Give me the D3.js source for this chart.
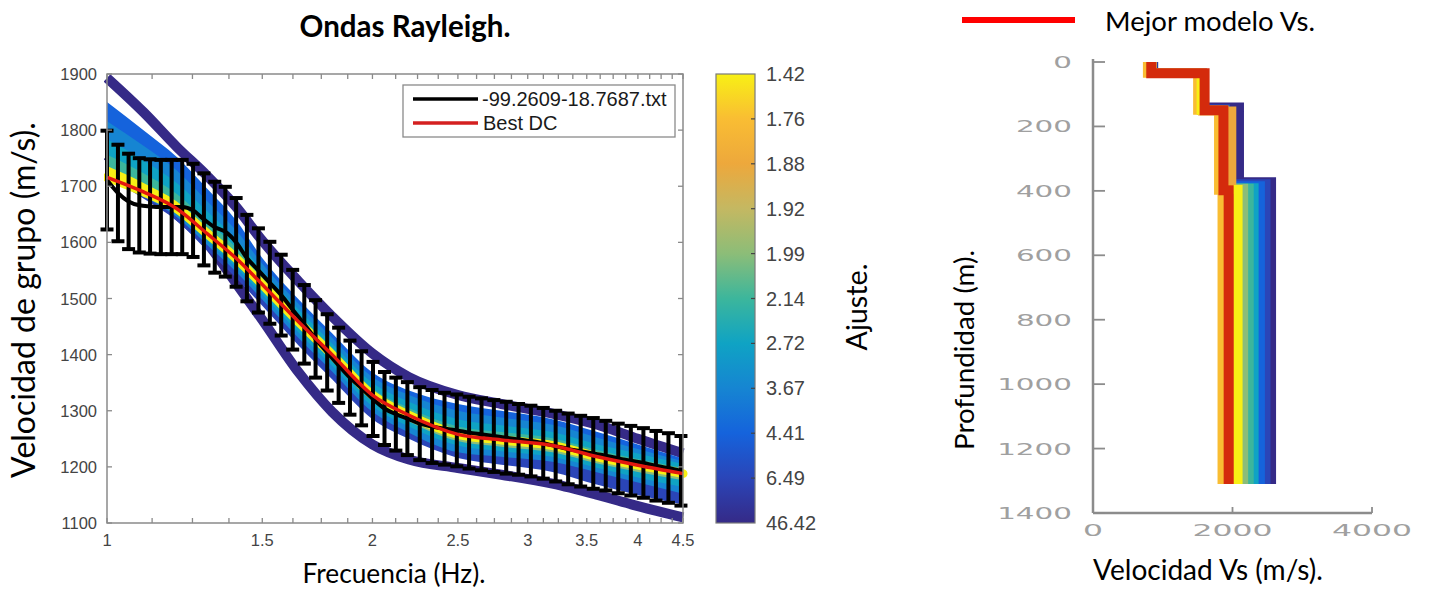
<!DOCTYPE html>
<html><head><meta charset="utf-8">
<script src="https://cdn.jsdelivr.net/npm/d3@7/dist/d3.min.js"></script>
<style>body{margin:0;background:#fff}svg{display:block}</style>
</head><body><svg id="c" width="1429" height="592"></svg>
<script>
// ---------------- DATA ----------------
// Left panel: dispersion curves (group velocity, m/s) at anchor frequencies (Hz)
const freqAnchors = [1.0,1.1,1.2,1.3,1.4,1.5,1.65,1.8,2.0,2.2,2.5,2.8,3.2,3.6,4.0,4.5];
const bestDC      = [1716,1690,1660,1615,1572,1525,1458,1400,1328,1292,1258,1248,1238,1218,1203,1188];
const worstUpper  = [1893,1832,1770,1718,1664,1603,1530,1468,1402,1360,1328,1312,1295,1275,1250,1224];
const worstLower  = [1755,1700,1650,1598,1528,1462,1368,1298,1240,1213,1198,1186,1170,1150,1130,1110];
const fanUpB = [1850,1800,1752,1695,1640,1572,1498,1438,1368,1336,1312,1300,1285,1262,1240,1215];
const fanUpC = [1816,1772,1728,1673,1622,1562,1490,1430,1360,1328,1300,1288,1275,1252,1232,1210];
const fanUpD = [1784,1746,1706,1655,1606,1550,1480,1420,1350,1316,1285,1274,1262,1240,1224,1205];
const fanUpE = [1756,1723,1686,1637,1591,1540,1471,1412,1340,1305,1272,1262,1251,1230,1214,1198];
const fanUpF = [1736,1706,1673,1626,1582,1533,1465,1406,1334,1299,1265,1255,1245,1224,1209,1193];
const fanLoB = [1718,1678,1638,1585,1537,1487,1416,1356,1285,1250,1216,1204,1191,1168,1150,1133];
const fanLoC = [1718,1682,1645,1595,1548,1498,1429,1370,1298,1261,1226,1218,1209,1190,1172,1152];
const fanLoD = [1718,1685,1650,1602,1556,1507,1439,1380,1308,1272,1238,1228,1218,1198,1181,1164];
const fanLoE = [1718,1687,1655,1608,1564,1516,1448,1390,1318,1281,1246,1236,1226,1206,1191,1176];
const worstMisfit = 46.42;
const fanUpMisfit = [4.41,3.67,2.72,2.14,1.42];
const fanLoMisfit = [6.49,3.67,2.72,1.99];
const bestMisfit = 1.42;

// Observed curve with error bars
const barFreq = [1.000,1.029,1.058,1.088,1.119,1.151,1.184,1.217,1.252,1.288,1.325,1.362,1.401,1.441,1.485,1.530,1.576,1.624,1.674,1.724,1.777,1.831,1.886,1.944,2.003,2.064,2.126,2.191,2.263,2.337,2.414,2.493,2.574,2.659,2.746,2.836,2.929,3.025,3.124,3.227,3.334,3.445,3.560,3.678,3.800,3.927,4.058,4.193,4.332,4.476];
const barVel  = [1711,1688,1673,1666,1664,1663,1663,1663,1657,1641,1627,1619,1600,1572,1550,1528,1506,1480,1454,1428,1404,1381,1359,1340,1321,1304,1294,1286,1277,1272,1268,1265,1261,1258,1255,1252,1249,1246,1242,1237,1232,1228,1224,1220,1215,1211,1207,1202,1198,1193];
const barErr  = [88,86,85,84,84,84,84,84,83,82,81,80,79,77,75,73,72,71,70,69,68,67,66,66,66,65,65,65,65,65,64,64,64,64,64,64,63,63,63,63,63,63,63,62,62,62,62,62,62,62];

// Axis ticks / labels
const yTicksLeft = [1100,1200,1300,1400,1500,1600,1700,1800,1900];
const xTickLabels = [1,1.5,2,2.5,3,3.5,4,4.5];
const cbTickValues = [1.42,1.76,1.88,1.92,1.99,2.14,2.72,3.67,4.41,6.49,46.42];
const cbTickLabels = ["1.42","1.76","1.88","1.92","1.99","2.14","2.72","3.67","4.41","6.49","46.42"];
const parulaStops = ["#352a87","#2a45b8","#1563dc","#1685d2","#0fa3c4","#3cb69c","#8cbd78","#c4b862","#eda83c","#f9bd33","#f8f015"];

// Right panel: Vs profiles (layer tops in m, Vs in m/s)
const profMisfit = [46.42,6.49,4.41,2.72,2.14,1.99,1.88,1.76,1.42];
const profTops = [[0,35,140,372],[0,35,145,378],[0,35,148,384],[0,36,150,390],[0,36,150,392],[0,36,150,392],[0,34,152,396],[0,35,150,398],[0,35,150,396]];
const profVs   = [[870,1570,2100,2560],[860,1565,1900,2480],[855,1560,1890,2400],[850,1560,1885,2310],[845,1555,1880,2240],[845,1555,1880,2160],[850,1570,1990,2000],[780,1500,1800,1850],[835,1550,1870,2080]];
const bestProfTops = [0,35,150,398];
const bestProfVs   = [835,1600,1870,1945];
const profBottom = 1310;
const depthTicks = [0,200,400,600,800,1000,1200,1400];
const vsTicks = [0,2000,4000];

// ---------------- DRAW ----------------
const svg = d3.select("#c");
const TF = "Lato, 'Open Sans', sans-serif";
const AF = "'Liberation Sans', Arial, sans-serif";

const misfitPos = d3.scaleLinear().domain(cbTickValues).range(cbTickValues.map((d,i)=>1-i/10)).clamp(true);
const parula = d3.scaleLinear().domain(parulaStops.map((d,i)=>i/10)).range(parulaStops).interpolate(d3.interpolateRgb);
const colorOf = m => parula(misfitPos(m));

// Left scales
const fx = d3.scaleLog().domain([1,4.5]).range([107,683]);
const fy = d3.scaleLinear().domain([1100,1900]).range([523,74]);

const defs = svg.append("defs");
defs.append("clipPath").attr("id","clipL").append("rect").attr("x",104).attr("y",60).attr("width",590).attr("height",472);

const gL = svg.append("g");
const gC = gL.append("g").attr("clip-path","url(#clipL)");
const line = d3.line().x((d,i)=>fx(freqAnchors[i])).y(d=>fy(d)).curve(d3.curveMonotoneX);
const area = d3.area().x((d,i)=>fx(freqAnchors[i])).y0((d,i)=>fy(bestDC[i])).y1(d=>fy(d)).curve(d3.curveMonotoneX);

[worstUpper, worstLower].forEach(v=>{
  gC.append("path").attr("d", line(v)).attr("fill","none")
    .attr("stroke", colorOf(worstMisfit)).attr("stroke-width",10).attr("stroke-linecap","butt");
});
[fanUpB,fanUpC,fanUpD,fanUpE,fanUpF].forEach((v,k)=>{
  gC.append("path").attr("d", area(v)).attr("fill", colorOf(fanUpMisfit[k]));
});
[fanLoB,fanLoC,fanLoD,fanLoE].forEach((v,k)=>{
  gC.append("path").attr("d", area(v)).attr("fill", colorOf(fanLoMisfit[k]));
});
gC.append("path").attr("d", line(bestDC)).attr("fill","none")
  .attr("stroke", colorOf(bestMisfit)).attr("stroke-width",9).attr("stroke-linecap","round");

// error bars
const capW = 6.5;
const gB = gL.append("g").attr("stroke","#000");
barFreq.forEach((f,i)=>{
  const x = fx(f), y1 = fy(barVel[i]+barErr[i]), y0 = fy(barVel[i]-barErr[i]);
  gB.append("line").attr("x1",x).attr("x2",x).attr("y1",y1).attr("y2",y0).attr("stroke-width",4);
  gB.append("line").attr("x1",x-capW).attr("x2",x+capW).attr("y1",y1).attr("y2",y1).attr("stroke-width",4);
  gB.append("line").attr("x1",x-capW).attr("x2",x+capW).attr("y1",y0).attr("y2",y0).attr("stroke-width",4);
});
const obsLine = d3.line().x((d,i)=>fx(barFreq[i])).y(d=>fy(d)).curve(d3.curveMonotoneX);
gL.append("path").attr("d", obsLine(barVel)).attr("fill","none").attr("stroke","#000").attr("stroke-width",4);
gL.append("path").attr("d", line(bestDC)).attr("fill","none").attr("stroke","#e3170f").attr("stroke-width",3.5);

// axes box & ticks
const axC = "#8a8a8a";
gL.append("rect").attr("x",107).attr("y",74).attr("width",683-107).attr("height",523-74)
  .attr("fill","none").attr("stroke",axC).attr("stroke-width",1.5);
yTicksLeft.forEach(v=>{
  gL.append("line").attr("x1",107).attr("x2",112).attr("y1",fy(v)).attr("y2",fy(v)).attr("stroke",axC).attr("stroke-width",1.3);
  gL.append("line").attr("x1",683).attr("x2",678).attr("y1",fy(v)).attr("y2",fy(v)).attr("stroke",axC).attr("stroke-width",1.3);
  gL.append("text").attr("x",97).attr("y",fy(v)).attr("text-anchor","end").attr("dominant-baseline","central")
    .attr("font-family",AF).attr("font-size",16.5).attr("fill","#444").text(v);
});
const minorTicks = d3.range(1,4.5001,0.125);
minorTicks.forEach(f=>{
  gL.append("line").attr("x1",fx(f)).attr("x2",fx(f)).attr("y1",523).attr("y2",518).attr("stroke",axC).attr("stroke-width",1.3);
  gL.append("line").attr("x1",fx(f)).attr("x2",fx(f)).attr("y1",74).attr("y2",79).attr("stroke",axC).attr("stroke-width",1.3);
});
xTickLabels.forEach(f=>{
  gL.append("text").attr("x",fx(f)).attr("y",540).attr("text-anchor","middle").attr("dominant-baseline","central")
    .attr("font-family",AF).attr("font-size",16.5).attr("fill","#444").text(f);
});

// legend (left)
const lg = gL.append("g");
lg.append("rect").attr("x",403).attr("y",85).attr("width",272).attr("height",52).attr("fill","#fff").attr("stroke",axC).attr("stroke-width",1.3);
lg.append("line").attr("x1",413).attr("x2",478).attr("y1",99).attr("y2",99).attr("stroke","#000").attr("stroke-width",3.5);
lg.append("line").attr("x1",413).attr("x2",478).attr("y1",123).attr("y2",123).attr("stroke","#d42020").attr("stroke-width",3.5);
lg.append("text").attr("x",482).attr("y",99).attr("dominant-baseline","central").attr("font-family",AF).attr("font-size",20).attr("fill","#1a1a1a").text("-99.2609-18.7687.txt");
lg.append("text").attr("x",483).attr("y",123).attr("dominant-baseline","central").attr("font-family",AF).attr("font-size",20).attr("fill","#1a1a1a").text("Best DC");

// colorbar
const grad = defs.append("linearGradient").attr("id","parula").attr("x1",0).attr("y1",1).attr("x2",0).attr("y2",0);
parulaStops.forEach((c,i)=>grad.append("stop").attr("offset",i/10).attr("stop-color",c));
const cbY = d3.scaleLinear().domain([0,10]).range([74,523]);
svg.append("rect").attr("x",716).attr("y",74).attr("width",39).attr("height",449)
  .attr("fill","url(#parula)").attr("stroke","#7a7a7a").attr("stroke-width",1.2);
cbTickLabels.forEach((t,i)=>{
  const y = cbY(i);
  if(i>0 && i<10) svg.append("line").attr("x1",751).attr("x2",755).attr("y1",y).attr("y2",y).attr("stroke","#444").attr("stroke-width",1.2);
  svg.append("text").attr("x",766).attr("y",y).attr("dominant-baseline","central")
    .attr("font-family",AF).attr("font-size",20).attr("fill","#444").text(t);
});

// Titles / labels: font size chosen so the natural width matches the reference span
function label(txt,x,y,len,opts={}){
  const base = 22;
  const t = svg.append("text").attr("x",x).attr("y",y).attr("text-anchor","middle").attr("dominant-baseline","central")
    .attr("font-family",TF).attr("font-size",base).attr("fill","#000")
    .attr("font-weight",opts.bold?"bold":"normal").text(txt);
  const nat = t.node().getComputedTextLength();
  if(nat>0) t.attr("font-size", base*len/nat);
  if(opts.rot) t.attr("transform",`rotate(-90,${x},${y})`);
  return t;
}
label("Ondas Rayleigh.",405,25,211,{bold:true});
label("Velocidad de grupo (m/s).",22,300,356,{rot:true});
label("Frecuencia (Hz).",394,573,183);
label("Ajuste.",856,307,87,{rot:true});

// ---------------- RIGHT PANEL ----------------
const vx = d3.scaleLinear().domain([0,4000]).range([1093,1372]);
const dy = d3.scaleLinear().domain([0,1400]).range([62,513]);
const gR = svg.append("g");
function profPts(tops,vs){
  const pts=[];
  tops.forEach((t,i)=>{
    const bot = i<tops.length-1 ? tops[i+1] : profBottom;
    pts.push([vs[i],t]); pts.push([vs[i],bot]);
  });
  return pts;
}
const pLine = d3.line().x(d=>vx(d[0])).y(d=>dy(d[1]));
profMisfit.forEach((m,k)=>{
  gR.append("path").attr("d",pLine(profPts(profTops[k],profVs[k]))).attr("fill","none")
    .attr("stroke",colorOf(m)).attr("stroke-width",9).attr("stroke-linejoin","miter");
});
gR.append("path").attr("d",pLine(profPts(bestProfTops,bestProfVs))).attr("fill","none")
  .attr("stroke","#d42a0c").attr("stroke-width",10).attr("stroke-linejoin","miter");

// right axes
const rC = "#8c8c8c";
gR.append("line").attr("x1",vx(0)).attr("x2",vx(0)).attr("y1",dy(0)-3).attr("y2",dy(1400)).attr("stroke",rC).attr("stroke-width",2.5);
gR.append("line").attr("x1",vx(0)).attr("x2",vx(4000)).attr("y1",dy(1400)).attr("y2",dy(1400)).attr("stroke",rC).attr("stroke-width",2.5);
depthTicks.forEach(d=>{
  gR.append("line").attr("x1",vx(0)).attr("x2",vx(0)+12).attr("y1",dy(d)).attr("y2",dy(d)).attr("stroke",rC).attr("stroke-width",1.8);
  const s = String(d), len = s.length*18.7;
  gR.append("text").attr("x",1072-len).attr("y",dy(d)+1).attr("dominant-baseline","central")
    .attr("font-family","'DejaVu Sans', sans-serif").attr("font-size",15).attr("fill","#a0a0a0")
    .attr("textLength",len).attr("lengthAdjust","spacingAndGlyphs").text(s);
});
vsTicks.forEach(v=>{
  gR.append("line").attr("x1",vx(v)).attr("x2",vx(v)).attr("y1",dy(1400)).attr("y2",dy(1400)-6).attr("stroke",rC).attr("stroke-width",1.8);
  const s = String(v), len = s.length*20;
  gR.append("text").attr("x",vx(v)-len/2).attr("y",531).attr("dominant-baseline","central")
    .attr("font-family","'DejaVu Sans', sans-serif").attr("font-size",15).attr("fill","#a0a0a0")
    .attr("textLength",len).attr("lengthAdjust","spacingAndGlyphs").text(s);
});

// right legend & labels
svg.append("line").attr("x1",962).attr("x2",1075).attr("y1",20).attr("y2",20).attr("stroke","#ff0000").attr("stroke-width",6);
label("Mejor modelo Vs.",1210,20,210);
label("Profundidad (m).",963,350,200,{rot:true});
label("Velocidad Vs (m/s).",1208,569,230);
</script></body></html>
